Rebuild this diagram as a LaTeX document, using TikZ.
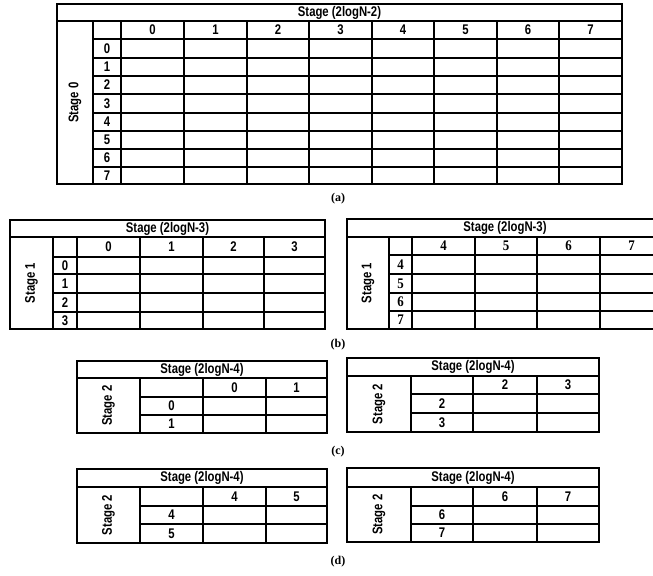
\documentclass[tikz,border=0pt]{standalone}
\usepackage{fontspec}
\setmainfont{Liberation Serif}
\newfontfamily\cellfont[FakeStretch=0.81]{Liberation Sans}
\newfontfamily\cellserif[FakeStretch=0.88]{Liberation Serif}

\begin{document}
\begin{tikzpicture}[x=0.75pt, y=-0.75pt,
    grid/.style={line width=1.6pt},
    frame/.style={line width=1.9pt},
    cell/.style={font=\cellfont\bfseries\fontsize{10.5}{11}\selectfont, inner sep=0pt},
    cellserif/.style={font=\cellserif\bfseries\fontsize{11}{11}\selectfont, inner sep=0pt},
    caption/.style={font=\bfseries\fontsize{9}{10}\selectfont, inner sep=0pt}]
    \useasboundingbox (0,0) rectangle (653,575);
    \clip (0,0) rectangle (653,575);

    % (a)
    \draw[frame] (57,4) rectangle (622,184);
    \draw[grid] (57,21) -- (622,21);
    \foreach \x in {93,121,184,247,309,372,434,497,559}
        \draw[grid] (\x,21) -- (\x,184);
    \foreach \y in {39,58,76,94,113,131,149,167}
        \draw[grid] (93,\y) -- (622,\y);
    \node[cell] (titleA) at (339.5,12.5) {Stage (2logN-2)};
    \node[cell, rotate=90] (stageA) at (75,102.5) {Stage 0};
    \foreach \n/\x in {0/152.5,1/215.5,2/278,3/340.5,4/403,5/465.5,6/528,7/590.5}
        \node[cell] (colA\n) at (\x,30) {\n};
    \foreach \n/\y in {0/48.5,1/67,2/85,3/103.5,4/122,5/140,6/158,7/175.5}
        \node[cell] (rowA\n) at (107,\y) {\n};
    \node[caption] (capA) at (338,199) {(a)};

    % (b) left
    \draw[frame] (10,220) rectangle (325,329);
    \draw[grid] (10,237) -- (325,237);
    \foreach \x in {53,77,140,203,264}
        \draw[grid] (\x,237) -- (\x,329);
    \foreach \y in {257,274,293,312}
        \draw[grid] (53,\y) -- (325,\y);
    \node[cell] (titleB) at (167.5,228.5) {Stage (2logN-3)};
    \node[cell, rotate=90] (stageB) at (31.5,283) {Stage 1};
    \foreach \n/\x in {0/108.5,1/171.5,2/233.5,3/294.5}
        \node[cell] (colB\n) at (\x,247) {\n};
    \foreach \n/\y in {0/265.5,1/283.5,2/302.5,3/320.5}
        \node[cell] (rowB\n) at (65,\y) {\n};

    % (b) right
    \draw[frame] (347,219) rectangle (663,329);
    \draw[grid] (347,237) -- (663,237);
    \foreach \x in {389,412,475,537,600}
        \draw[grid] (\x,237) -- (\x,329);
    \foreach \y in {255,274,293,311}
        \draw[grid] (389,\y) -- (663,\y);
    \node[cell] (titleBB) at (505,228) {Stage (2logN-3)};
    \node[cell, rotate=90] (stageBB) at (368,283) {Stage 1};
    \foreach \n/\x in {4/443.5,5/506,6/568.5,7/631.5}
        \node[cellserif] (colBB\n) at (\x,246) {\n};
    \foreach \n/\y in {4/264.5,5/283.5,6/302,7/320}
        \node[cellserif] (rowBB\n) at (400.5,\y) {\n};
    \node[caption] (capB) at (338,345) {(b)};

    % (c) left
    \draw[frame] (77,361) rectangle (327,433);
    \draw[grid] (77,378) -- (327,378);
    \foreach \x in {140,203,266}
        \draw[grid] (\x,378) -- (\x,433);
    \foreach \y in {397,415}
        \draw[grid] (140,\y) -- (327,\y);
    \node[cell] (titleC) at (202,369.5) {Stage (2logN-4)};
    \node[cell, rotate=90] (stageC) at (108.5,405.5) {Stage 2};
    \node[cell] (colC0) at (234.5,387.5) {0};
    \node[cell] (colC1) at (296.5,387.5) {1};
    \node[cell] (rowC0) at (171.5,406) {0};
    \node[cell] (rowC1) at (171.5,424) {1};

    % (c) right
    \draw[frame] (347,358) rectangle (599,432);
    \draw[grid] (347,376) -- (599,376);
    \foreach \x in {411,473,537}
        \draw[grid] (\x,376) -- (\x,432);
    \foreach \y in {394,413}
        \draw[grid] (411,\y) -- (599,\y);
    \node[cell] (titleCC) at (473,367) {Stage (2logN-4)};
    \node[cell, rotate=90] (stageCC) at (379,404) {Stage 2};
    \node[cell] (colCC2) at (505,385) {2};
    \node[cell] (colCC3) at (568,385) {3};
    \node[cell] (rowCC2) at (442,403.5) {2};
    \node[cell] (rowCC3) at (442,422.5) {3};
    \node[caption] (capC) at (338,452) {(c)};

    % (d) left
    \draw[frame] (77,469) rectangle (327,543);
    \draw[grid] (77,487) -- (327,487);
    \foreach \x in {140,203,266}
        \draw[grid] (\x,487) -- (\x,543);
    \foreach \y in {506,524}
        \draw[grid] (140,\y) -- (327,\y);
    \node[cell] (titleD) at (202,478) {Stage (2logN-4)};
    \node[cell, rotate=90] (stageD) at (108.5,515) {Stage 2};
    \node[cell] (colD4) at (234.5,496.5) {4};
    \node[cell] (colD5) at (296.5,496.5) {5};
    \node[cell] (rowD4) at (171.5,515) {4};
    \node[cell] (rowD5) at (171.5,533.5) {5};

    % (d) right
    \draw[frame] (347,468) rectangle (599,542);
    \draw[grid] (347,487) -- (599,487);
    \foreach \x in {411,473,537}
        \draw[grid] (\x,487) -- (\x,542);
    \foreach \y in {506,524}
        \draw[grid] (411,\y) -- (599,\y);
    \node[cell] (titleDD) at (473,477.5) {Stage (2logN-4)};
    \node[cell, rotate=90] (stageDD) at (379,514.5) {Stage 2};
    \node[cell] (colDD6) at (505,496.5) {6};
    \node[cell] (colDD7) at (568,496.5) {7};
    \node[cell] (rowDD6) at (442,515) {6};
    \node[cell] (rowDD7) at (442,533) {7};
    \node[caption] (capD) at (338,562) {(d)};
\end{tikzpicture}
\end{document}
